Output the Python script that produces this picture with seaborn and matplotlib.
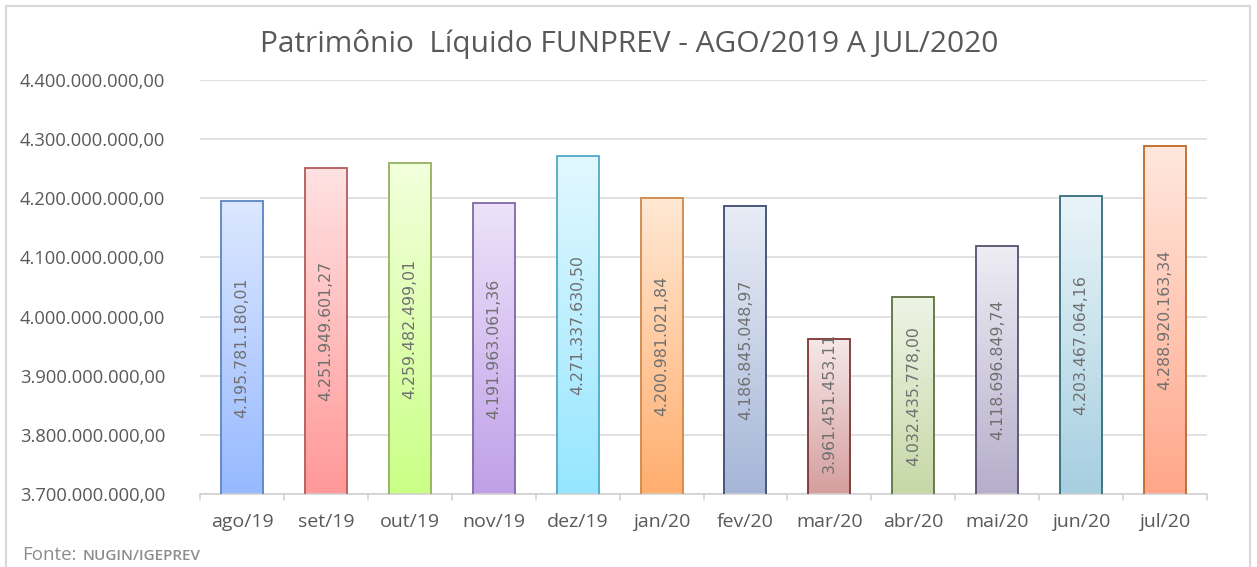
import numpy as np
import pandas as pd
import matplotlib
matplotlib.use("Agg")
import matplotlib.pyplot as plt
import matplotlib.colors as mcolors
from matplotlib.patches import Rectangle
import seaborn as sns

months = ["ago/19", "set/19", "out/19", "nov/19", "dez/19", "jan/20",
          "fev/20", "mar/20", "abr/20", "mai/20", "jun/20", "jul/20"]
values = [4195781180.01, 4251949601.27, 4259482499.01, 4191963061.36,
          4271337630.50, 4200981021.84, 4186845048.97, 3961451453.11,
          4032435778.00, 4118696849.74, 4203467064.16, 4288920163.34]
labels = ["4.195.781.180,01", "4.251.949.601,27", "4.259.482.499,01",
          "4.191.963.061,36", "4.271.337.630,50", "4.200.981.021,84",
          "4.186.845.048,97", "3.961.451.453,11", "4.032.435.778,00",
          "4.118.696.849,74", "4.203.467.064,16", "4.288.920.163,34"]
yticks = [3.7e9, 3.8e9, 3.9e9, 4.0e9, 4.1e9, 4.2e9, 4.3e9, 4.4e9]
ytick_labels = ["3.700.000.000,00", "3.800.000.000,00", "3.900.000.000,00",
                "4.000.000.000,00", "4.100.000.000,00", "4.200.000.000,00",
                "4.300.000.000,00", "4.400.000.000,00"]

top_colors = ["#dde8ff", "#ffe2e2", "#f2ffdc", "#ede2f9", "#e2f8ff", "#ffe8d4",
              "#e8edf6", "#f6e8e8", "#eef4e6", "#eeedf4", "#e9f4f8", "#ffe8de"]
bot_colors = ["#96b9ff", "#ff9898", "#caff86", "#bfa0e8", "#96e6ff", "#ffae6e",
              "#a6b6d8", "#d69e9e", "#c6d8a6", "#b6aecb", "#a6cfe0", "#ffa68a"]
edge_colors = ["#5a84c4", "#b45a5a", "#94b060", "#8068a8", "#50a8c8", "#d08848",
               "#3c4c72", "#7c3434", "#607040", "#545070", "#346c7c", "#c06828"]

df = pd.DataFrame({"mes": months, "valor": values})

sns.set_theme(style="white")
plt.rcParams["font.family"] = ["Open Sans", "DejaVu Sans"]

fig = plt.figure(figsize=(12.57, 5.67), dpi=100)
W, H = 1257, 567
ax = fig.add_axes([200 / W, 1 - 494 / H, (1207 - 200) / W, (494 - 80) / H])

sns.barplot(data=df, x="mes", y="valor", ax=ax, width=0.5, color="white",
            saturation=1)

ax.set_ylim(3.7e9, 4.4e9)
ax.set_xlim(-0.5, len(months) - 0.5)

for i, p in enumerate(ax.patches):
    x0, y0 = p.get_x(), p.get_y()
    w, h = p.get_width(), p.get_height()
    y0c = max(y0, 3.7e9)
    y1 = y0 + h
    cmap = mcolors.LinearSegmentedColormap.from_list(
        "g%d" % i, [bot_colors[i], top_colors[i]])
    grad = np.linspace(0, 1, 256).reshape(-1, 1)
    im = ax.imshow(grad, cmap=cmap, origin="lower", aspect="auto",
                   extent=[x0, x0 + w, y0c, y1], zorder=2, interpolation="bicubic")
    im.set_clip_path(p)
    p.set_facecolor("none")
    p.set_edgecolor(edge_colors[i])
    p.set_linewidth(1.3)
    p.set_zorder(3)
    ymid = (y0c + y1) / 2
    span = y1 - y0c
    if span < 0.27e9:
        # label longer than the bar: Excel keeps it just above the axis
        ax.text(x0 + w / 2, y0c + 0.035e9, labels[i], rotation=90,
                ha="center", va="bottom", fontsize=11.3, color="#707070",
                family="DejaVu Sans", zorder=4)
    else:
        ax.text(x0 + w / 2, ymid, labels[i], rotation=90,
                ha="center", va="center", fontsize=11.3, color="#707070",
                family="DejaVu Sans", zorder=4)

ax.set_aspect("auto")
ax.set_xlim(-0.5, len(months) - 0.5)
ax.set_ylim(3.7e9, 4.4e9)

ax.set_yticks(yticks)
ax.set_yticklabels(ytick_labels, fontsize=13.2, color="#595959")
ax.yaxis.grid(True, color="#d9d9d9", linewidth=1.1)
ax.set_axisbelow(True)
ax.set_xticks(range(len(months)))
ax.set_xticklabels(months, fontsize=14, color="#595959")
ax.tick_params(axis="x", length=0, pad=14)
ax.tick_params(axis="y", length=0, pad=25)
ax.set_xlabel("")
ax.set_ylabel("")

for s in ["top", "right", "left"]:
    ax.spines[s].set_visible(False)
ax.spines["bottom"].set_color("#d0d0d0")
ax.spines["bottom"].set_linewidth(1.1)

# category separator ticks
for b in np.arange(-0.5, len(months), 1.0):
    ax.plot([b, b], [0, -0.015], transform=ax.get_xaxis_transform(),
            color="#d0d0d0", lw=1.1, clip_on=False)

fig.text(629 / W, 1 - 44 / H, "Patrimônio  Líquido FUNPREV - AGO/2019 A JUL/2020",
         ha="center", va="center", fontsize=21.5, color="#595959")

fig.text(22 / W, 1 - 555 / H, "Fonte:", ha="left", va="center",
         fontsize=13.5, color="#8c8c8c")
fig.text(83 / W, 1 - 556 / H, "NUGIN/IGEPREV", ha="left", va="center",
         fontsize=11, color="#8c8c8c", fontweight="semibold")

frame = Rectangle((6 / W, -0.05), (1250 - 6) / W, 1 - 6 / H + 0.05,
                  transform=fig.transFigure, fill=False, edgecolor="#d9d9d9",
                  linewidth=1.5)
fig.patches.append(frame)

fig.savefig("out.png", dpi=100, facecolor="white")
